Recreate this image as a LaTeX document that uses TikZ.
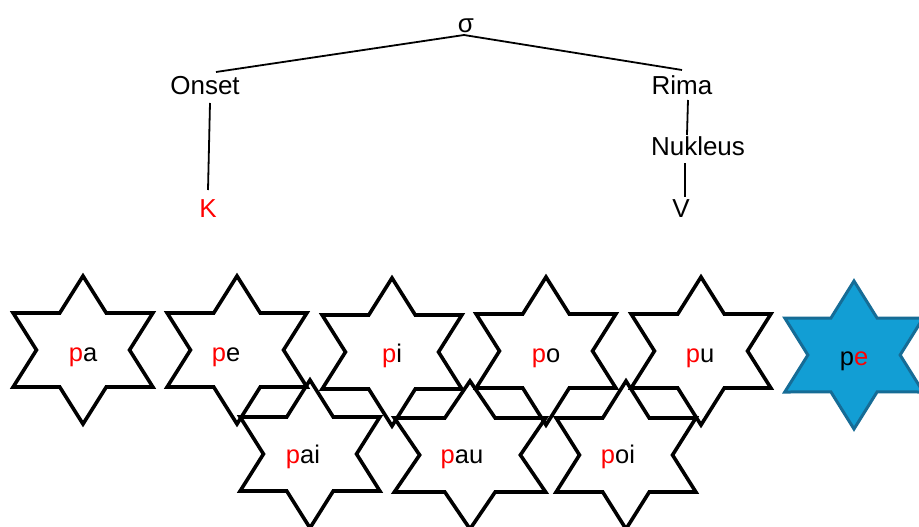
\documentclass[tikz,border=0pt]{standalone}
\usepackage{fontspec}
\setmainfont{Liberation Sans}
\definecolor{pred}{RGB}{255,0,0}
\definecolor{starblue}{RGB}{18,158,212}
\definecolor{starblueline}{RGB}{22,108,150}
\tikzset{
  hexstar/.pic={\draw[pic actions] (90:74) -- (120:42.7) -- (150:74) -- (180:42.7) -- (210:74) -- (240:42.7) -- (270:74) -- (300:42.7) -- (330:74) -- (0:42.7) -- (30:74) -- (60:42.7) -- cycle;},
  starline/.style={draw=black, line width=3.6pt},
  bluestar/.style={draw=starblueline, fill=starblue, line width=3pt},
  treetext/.style={inner sep=0pt, anchor=base, font=\fontsize{26}{30}\selectfont},
  startext/.style={inner sep=0pt, anchor=base, font=\fontsize{25.5}{30}\selectfont},
  treeline/.style={draw=black, line width=1.8pt},
}
\newcommand{\rp}{\textcolor{pred}{p}}
\begin{document}
\begin{tikzpicture}[x=1pt,y=-1pt]
\useasboundingbox (0,0) rectangle (919,527);
\clip (0,0) rectangle (919,527);
\fill[white] (0,0) rectangle (919,527);

% tree
\node[treetext] (sigma) at (466,33) {σ};
\node[treetext] (onset) at (205,95) {Onset};
\node[treetext] (rima) at (682,95) {Rima};
\node[treetext] (nukleus) at (698,155) {Nukleus};
\node[treetext, text=pred] (K) at (208,217) {K};
\node[treetext] (V) at (681,217) {V};

\coordinate (sigB) at (464,35);
\coordinate (onsetT) at (216,72);
\coordinate (rimaT) at (682,70);
\coordinate (onsetB) at (210,103);
\coordinate (kT) at (208,190);
\coordinate (rimaB) at (688,100);
\coordinate (nukT) at (687,135);
\coordinate (nukB) at (685,163);
\coordinate (vT) at (685,197);
\draw[treeline] (sigB) -- (onsetT);
\draw[treeline] (sigB) -- (rimaT);
\draw[treeline] (onsetB) -- (kT);
\draw[treeline] (rimaB) -- (nukT);
\draw[treeline] (nukB) -- (vT);

% stars
\pic[starline, xscale=1.09] (spa) at (83,350) {hexstar};
\pic[starline, xscale=1.09] (spe) at (237,350) {hexstar};
\pic[starline, xscale=1.09] (spi) at (392,352) {hexstar};
\pic[starline, xscale=1.09] (spo) at (546,351) {hexstar};
\pic[starline, xscale=1.09] (spu) at (701,351) {hexstar};
\pic[bluestar, xscale=1.08] (spe2) at (854,355) {hexstar};
\pic[starline, xscale=1.09] (spai) at (310,454) {hexstar};
\pic[starline, xscale=1.18] (spau) at (470,455) {hexstar};
\pic[starline, xscale=1.09] (spoi) at (626,455) {hexstar};

\node[startext] (tpa) at (83,361) {\rp a};
\node[startext] (tpe) at (226,361) {\rp e};
\node[startext] (tpi) at (392,362) {\rp i};
\node[startext] (tpo) at (546,362) {\rp o};
\node[startext] (tpu) at (700,362) {\rp u};
\node[startext] (tpe2) at (854,365) {p\textcolor{pred}{e}};
\node[startext] (tpai) at (303,463) {\rp ai};
\node[startext] (tpau) at (462,463) {\rp au};
\node[startext] (tpoi) at (618,463) {\rp oi};
\end{tikzpicture}
\end{document}
